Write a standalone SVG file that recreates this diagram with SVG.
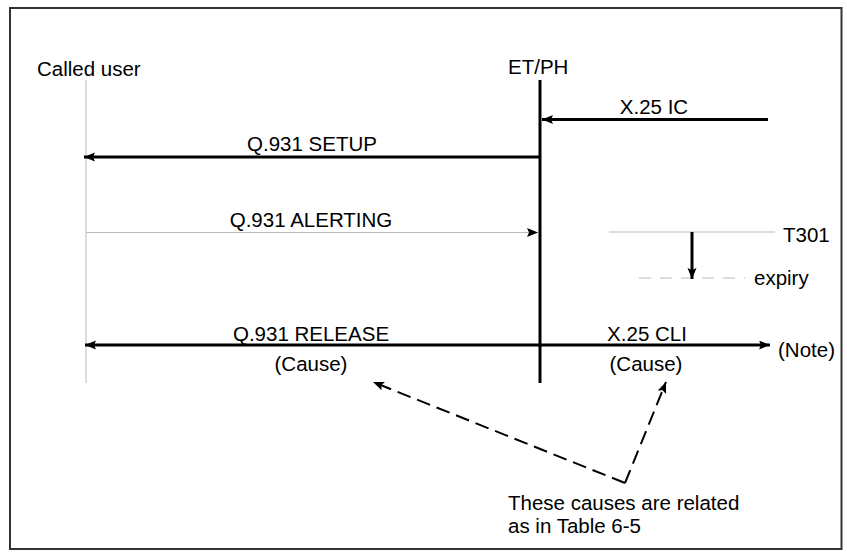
<svg xmlns="http://www.w3.org/2000/svg" width="847" height="556" viewBox="0 0 847 556">
<style>
text{font-family:"Liberation Sans",Arial,sans-serif;font-size:20.5px;fill:#000}
.mid{text-anchor:middle}
.life{stroke:#bbb;stroke-width:1;fill:none}
.thick{stroke:#000;stroke-width:3;fill:none}
.thin{stroke:#bbb;stroke-width:1;fill:none}
.dash{stroke:#000;stroke-width:2;fill:none;stroke-dasharray:14 7}
</style>
<defs>
<marker id="ah" markerUnits="userSpaceOnUse" markerWidth="12" markerHeight="10" refX="11" refY="4.5" orient="auto">
<path d="M0,0 L11,4.5 L0,9 L2,4.5 z" fill="#000"/>
</marker>
<marker id="ahs" markerUnits="userSpaceOnUse" markerWidth="12" markerHeight="10" refX="11" refY="4.5" orient="auto-start-reverse">
<path d="M0,0 L11,4.5 L0,9 L2,4.5 z" fill="#000"/>
</marker>
</defs>
<rect x="0" y="0" width="847" height="556" fill="#fff"/>
<rect id="frame" x="10" y="8" width="831.5" height="541" fill="none" stroke="#333" stroke-width="2"/>
<g id="called-user">
<text x="37" y="76">Called user</text>
<line class="life" x1="86" y1="80" x2="86" y2="383"/>
</g>
<g id="etph">
<text x="508" y="74">ET/PH</text>
<line class="thick" x1="540" y1="80" x2="540" y2="383"/>
</g>
<g id="timer">
<line class="thin" x1="609" y1="232" x2="775" y2="232"/>
<text x="783" y="242">T301</text>
<line class="thin" x1="639" y1="278" x2="745" y2="278" stroke-dasharray="12 9"/>
<text x="754" y="285">expiry</text>
</g>
<g id="connectors">
<line class="thick" x1="768" y1="119.5" x2="542" y2="119.5" marker-end="url(#ah)"/>
<line class="thick" x1="540" y1="157" x2="84" y2="157" marker-end="url(#ah)"/>
<line class="thin" x1="86" y1="232.5" x2="538" y2="232.5" marker-end="url(#ah)"/>
<line stroke="#000" stroke-width="3" x1="692" y1="232" x2="692" y2="279" marker-end="url(#ah)"/>
<line class="thick" x1="85" y1="345" x2="770" y2="345" marker-start="url(#ahs)" marker-end="url(#ah)"/>
<line class="dash" x1="625" y1="483" x2="373" y2="382" marker-end="url(#ah)"/>
<line class="dash" x1="625" y1="483" x2="666" y2="382" marker-end="url(#ah)"/>
</g>
<g id="labels">
<text class="mid" x="654" y="114">X.25 IC</text>
<text class="mid" x="312" y="151">Q.931 SETUP</text>
<text class="mid" x="311" y="227">Q.931 ALERTING</text>
<text class="mid" x="311" y="341">Q.931 RELEASE</text>
<text class="mid" x="311" y="371">(Cause)</text>
<text class="mid" x="647" y="341">X.25 CLI</text>
<text class="mid" x="646" y="371">(Cause)</text>
<text x="778" y="357">(Note)</text>
<text x="508" y="510">These causes are related</text>
<text x="508" y="533">as in Table 6-5</text>
</g>
</svg>
